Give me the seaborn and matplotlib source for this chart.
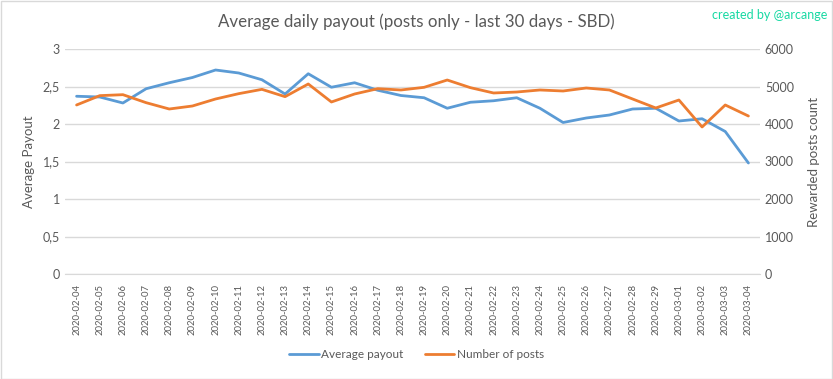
import matplotlib
matplotlib.use("Agg")
import matplotlib.pyplot as plt
import matplotlib.ticker as mticker
import seaborn as sns
import pandas as pd

# data
dates = pd.date_range("2020-02-04", "2020-03-04", freq="D").strftime("%Y-%m-%d").tolist()
avg_payout = [2.37, 2.36, 2.28, 2.47, 2.55, 2.62, 2.72, 2.68, 2.59, 2.40,
              2.67, 2.49, 2.55, 2.45, 2.38, 2.35, 2.21, 2.29, 2.31, 2.35,
              2.21, 2.02, 2.08, 2.12, 2.20, 2.21, 2.04, 2.07, 1.90, 1.48]
num_posts = [4507, 4756, 4782, 4569, 4400, 4480, 4667, 4809, 4924, 4729,
             5067, 4587, 4800, 4942, 4907, 4978, 5173, 4969, 4827, 4853,
             4907, 4880, 4960, 4907, 4667, 4427, 4640, 3920, 4507, 4213]

df = pd.DataFrame({"date": dates, "payout": avg_payout, "posts": num_posts})
df["idx"] = range(len(df))

sns.set_style("white")
plt.rcParams["font.family"] = ["Lato", "DejaVu Sans"]
text_col = "#595959"
blue = "#5B9BD5"
orange = "#ED7D31"

fig = plt.figure(figsize=(8.33, 3.79), dpi=100)
ax = fig.add_axes([65 / 833, 1 - 274 / 379, 695 / 833, 225 / 379])
ax2 = ax.twinx()

sns.lineplot(data=df, x="idx", y="payout", ax=ax, color=blue, linewidth=2, label="Average payout", legend=False)
sns.lineplot(data=df, x="idx", y="posts", ax=ax2, color=orange, linewidth=2, label="Number of posts", legend=False)

ax.set_xlim(-0.5, len(df) - 0.5)
ax.set_ylim(0, 3)
ax2.set_ylim(0, 6000)
ax.set_yticks([0, 0.5, 1, 1.5, 2, 2.5, 3])
ax.yaxis.set_major_formatter(mticker.FuncFormatter(lambda v, p: f"{v:g}".replace(".", ",")))
ax2.set_yticks(range(0, 6001, 1000))
ax.set_xticks(df["idx"])

ax.grid(axis="y", color="#D9D9D9", linewidth=1)
ax.set_axisbelow(True)
for a in (ax, ax2):
    for s in a.spines.values():
        s.set_visible(False)
    a.tick_params(length=0, labelsize=9, colors=text_col)
ax.spines["bottom"].set_visible(True)
ax.spines["bottom"].set_color("#D9D9D9")
ax.set_xticklabels(df["date"], rotation=90, fontsize=6.8, color=text_col)
ax.tick_params(axis="x", pad=7)

ax.set_xlabel("")
ax.set_ylabel("Average Payout", fontsize=9.5, color=text_col, labelpad=6)
ax2.set_ylabel("Rewarded posts count", fontsize=9.5, color=text_col, labelpad=10)

fig.text(0.5, 1 - 22 / 379, "Average daily payout (posts only - last 30 days - SBD)",
         ha="center", va="center", fontsize=12.2, color=text_col)
fig.text(0.993, 1 - 15 / 379, "created by @arcange", ha="right", va="center",
         fontsize=9, color="#17D9A3")

h1, l1 = ax.get_legend_handles_labels()
h2, l2 = ax2.get_legend_handles_labels()
fig.legend(h1 + h2, l1 + l2, loc="center", bbox_to_anchor=(0.5, 1 - 355 / 379), ncol=2,
           frameon=False, fontsize=8.5, labelcolor=text_col, handlelength=2.5,
           handletextpad=0.2, columnspacing=1.8)

fig.patches.append(plt.Rectangle((0.001, 0.001), 0.998, 0.997, transform=fig.transFigure,
                                 fill=False, edgecolor="#D9D9D9", linewidth=1))
fig.savefig("out.png", dpi=100)
